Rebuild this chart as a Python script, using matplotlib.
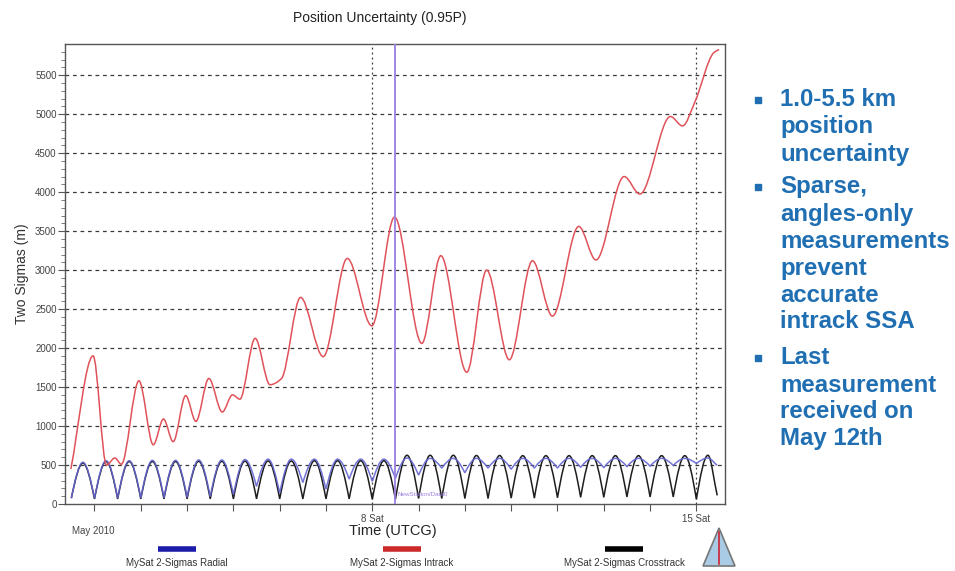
import numpy as np
import matplotlib
matplotlib.use("Agg")
import matplotlib.pyplot as plt
from matplotlib.path import Path
from matplotlib.patches import PathPatch, Polygon
from matplotlib.lines import Line2D

plt.rcParams['font.family'] = ['Liberation Sans', 'DejaVu Sans']

# ---------------- data ----------------
title = "Position Uncertainty (0.95P)"
y_label = "Two Sigmas (m)"
x_label = "Time (UTCG)"
y_ticks = [0, 500, 1000, 1500, 2000, 2500, 3000, 3500, 4000, 4500, 5000, 5500]
x_tick_days = [2, 3, 4, 5, 6, 7, 8, 9, 10, 11, 12, 13, 14, 15]
x_label_days = [8, 15]
x_label_texts = ["8 Sat", "15 Sat"]
start_label = "May 2010"
last_measurement_day = 8.5
station_label = "NewStation/Data0"

# In-track (red): key points (day of May 2010, metres)
red_days = [1.49, 1.97, 2.26, 2.44, 2.58, 2.96, 3.27, 3.49, 3.70, 3.97, 4.19,
            4.47, 4.76, 4.98, 5.14, 5.47, 5.79, 6.04, 6.45, 6.94, 7.46, 7.99,
            8.48, 9.07, 9.48, 10.04, 10.47, 10.96, 11.46, 11.89, 12.46, 12.83,
            13.44, 13.78, 14.44, 14.70, 14.97, 15.37, 15.49]
red_vals = [450, 1900, 500, 590, 510, 1580, 760, 1090, 800, 1390, 1060,
            1610, 1180, 1400, 1345, 2125, 1530, 1610, 2650, 1890, 3150, 2285,
            3680, 2060, 3185, 1690, 3000, 1850, 3120, 2410, 3560, 3130,
            4200, 3975, 4970, 4850, 5160, 5785, 5830]

# Radial (blue) and cross-track (black): minima / maxima nodes
osc_days = [1.5, 1.75, 2.0, 2.25, 2.5, 2.75, 3.0, 3.25, 3.5, 3.75, 4.0, 4.25,
            4.5, 4.75, 5.0, 5.25, 5.5, 5.75, 6.0, 6.25, 6.5, 6.75, 7.0, 7.25,
            7.5, 7.75, 8.0, 8.25, 8.5, 8.75, 9.0, 9.25, 9.5, 9.75, 10.0, 10.25,
            10.5, 10.75, 11.0, 11.25, 11.5, 11.75, 12.0, 12.25, 12.5, 12.75,
            13.0, 13.25, 13.5, 13.75, 14.0, 14.25, 14.5, 14.75, 15.0, 15.25,
            15.45]
cross_vals = [75, 525, 65, 545, 65, 545, 65, 545, 65, 545, 65, 548,
              65, 548, 65, 550, 65, 552, 65, 552, 65, 555, 65, 555,
              65, 555, 60, 555, 60, 625, 70, 625, 70, 625, 70, 622,
              70, 622, 75, 620, 75, 620, 80, 620, 85, 620,
              85, 620, 90, 620, 90, 620, 90, 620, 60, 625,
              110]
radial_vals = [75, 535, 70, 555, 75, 555, 75, 560, 80, 560, 85, 565,
               95, 565, 120, 570, 225, 575, 140, 575, 275, 575, 190, 575,
               320, 575, 290, 575, 330, 590, 370, 585, 460, 585, 400, 585,
               460, 585, 445, 585, 460, 585, 460, 585, 470, 585,
               465, 585, 480, 585, 485, 585, 495, 585, 520, 590,
               495]

legend_names = ["MySat 2-Sigmas Radial", "MySat 2-Sigmas Intrack",
                "MySat 2-Sigmas Crosstrack"]
legend_colors = ["#1c1caa", "#cc2a2a", "#000000"]

bullets = [["1.0-5.5 km", "position", "uncertainty"],
           ["Sparse,", "angles-only", "measurements", "prevent", "accurate",
            "intrack SSA"],
           ["Last", "measurement", "received on", "May 12th"]]


# ---------------- helpers ----------------
def smooth_path(xs, ys, cusp_minima=False):
    xs = np.asarray(xs, float)
    ys = np.asarray(ys, float)
    n = len(xs)
    h = np.diff(xs)
    d = np.diff(ys) / h
    m_in = np.zeros(n)
    m_out = np.zeros(n)
    for i in range(n):
        if i == 0:
            s = d[0]
            if cusp_minima:
                s = np.pi / 2 * d[0]
            m_in[i] = m_out[i] = s
            continue
        if i == n - 1:
            m_in[i] = m_out[i] = d[-1]
            continue
        a, b = d[i - 1], d[i]
        if a * b <= 0:
            if cusp_minima and a < 0 and b > 0:
                m_in[i] = np.pi / 2 * a
                m_out[i] = np.pi / 2 * b
            else:
                m_in[i] = m_out[i] = 0.0
        else:
            s = 2 * a * b / (a + b)
            m_in[i] = m_out[i] = s
    verts = [(xs[0], ys[0])]
    codes = [Path.MOVETO]
    for i in range(n - 1):
        hh = h[i]
        verts += [(xs[i] + hh / 3, ys[i] + m_out[i] * hh / 3),
                  (xs[i + 1] - hh / 3, ys[i + 1] - m_in[i + 1] * hh / 3),
                  (xs[i + 1], ys[i + 1])]
        codes += [Path.CURVE4] * 3
    return Path(verts, codes)


W, H = 955, 571
fig = plt.figure(figsize=(W / 100, H / 100), dpi=100)
L, R, T, B = 65, 725, 44, 504
ax = fig.add_axes([L / W, 1 - B / H, (R - L) / W, (B - T) / H])

ax.set_xlim(1.363, 15.618)
ax.set_ylim(0, 5900)

# grid
for v in y_ticks[1:]:
    ax.axhline(v, color="#3a3a3a", lw=0.9, dashes=(3, 3), zorder=1)
for dd in x_label_days:
    ax.axvline(dd, color="#3a3a3a", lw=0.9, dashes=(1.5, 2.5), zorder=1)

# curves
ax.add_patch(PathPatch(smooth_path(osc_days, cross_vals, cusp_minima=True),
                       fill=False, edgecolor="#1e1e1e", lw=1.1, zorder=3))
ax.add_patch(PathPatch(smooth_path(osc_days, radial_vals, cusp_minima=True),
                       fill=False, edgecolor="#6464d2", lw=1.1, zorder=4,
                       alpha=0.9))
ax.add_patch(PathPatch(smooth_path(red_days, red_vals),
                       fill=False, edgecolor="#e0525a", lw=1.1, zorder=5))

# last measurement marker
ax.axvline(last_measurement_day, color="#9a7fe0", lw=1.3, zorder=6)
ax.text(last_measurement_day + 0.05, 120, station_label, color="#9a7fe0",
        fontsize=4.5, va="center", ha="left", zorder=6)

# axes styling
for s in ax.spines.values():
    s.set_color("#555555")
    s.set_linewidth(1.0)
ax.set_yticks(y_ticks)
ax.set_yticks(np.arange(0, 5900, 100), minor=True)
ax.tick_params(axis="y", which="major", length=5, width=0.8, color="#555555",
               labelsize=7, labelcolor="#444444", pad=1)
ax.tick_params(axis="y", which="minor", length=3, width=0.6, color="#666666")
ax.set_xticks(x_tick_days)
ax.set_xticklabels([x_label_texts[x_label_days.index(d)] if d in x_label_days
                    else "" for d in x_tick_days])
ax.tick_params(axis="x", which="major", length=5, width=0.8, color="#555555",
               labelsize=7, labelcolor="#444444", pad=2)

fig.text(380 / W, 1 - 18 / H, title, ha="center", va="center", fontsize=10,
         color="#222222")
fig.text(22 / W, 1 - 274 / H, y_label, rotation=90, ha="center", va="center",
         fontsize=10, color="#333333")
fig.text(393 / W, 1 - 531 / H, x_label, ha="center", va="center",
         fontsize=10.5, color="#222222")
fig.text(93 / W, 1 - 531 / H, start_label, ha="center", va="center",
         fontsize=7, color="#444444")

# legend
leg_x = [177, 402, 624]
for xc, name, col in zip(leg_x, legend_names, legend_colors):
    fig.add_artist(Line2D([(xc - 19) / W, (xc + 19) / W],
                          [1 - 549 / H, 1 - 549 / H], color=col, lw=4,
                          solid_capstyle="butt"))
    fig.text(xc / W, 1 - 563 / H, name, ha="center", va="center",
             fontsize=7, color="#333333")

# logo
logo = Polygon([[703 / W, 1 - 566 / H], [719 / W, 1 - 528 / H],
                [735 / W, 1 - 566 / H]], closed=True, transform=fig.transFigure,
               facecolor="#a9cbe6", edgecolor="#777777", lw=1.2)
fig.add_artist(logo)
fig.add_artist(Line2D([719 / W, 719 / W], [1 - 532 / H, 1 - 564 / H],
                      color="#cc2233", lw=1.2))

# bullets on the right
blue = "#1f6fb2"
y = 100
for gi, group in enumerate(bullets):
    fig.add_artist(Line2D([758 / W], [1 - y / H], marker="s", ms=4.5,
                          color=blue, lw=0, transform=fig.transFigure))
    for line in group:
        fig.text(780 / W, 1 - y / H, line, ha="left", va="center",
                 fontsize=17.3, fontweight="bold", color=blue)
        y += 27
    y += 6 + 3 * gi

fig.savefig("out.png", dpi=100)
